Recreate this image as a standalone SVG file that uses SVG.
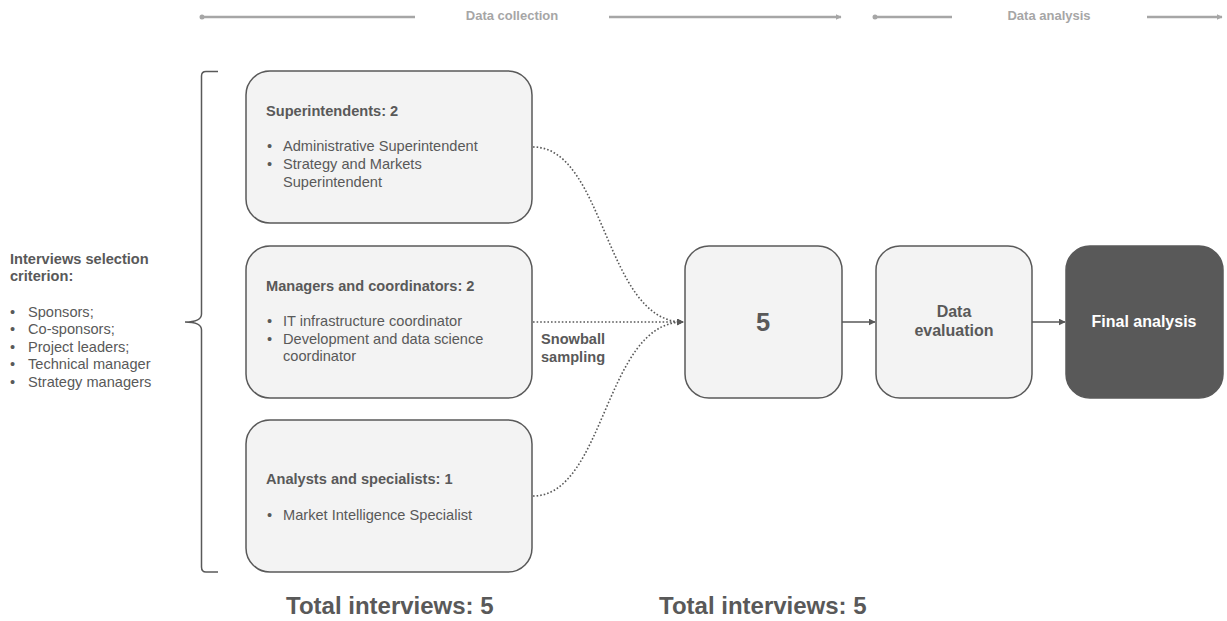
<svg xmlns="http://www.w3.org/2000/svg" width="1227" height="621" viewBox="0 0 1227 621">
  <defs>
    <style>
      text { font-family: "Liberation Sans", Arial, sans-serif; fill: #595959; }
      .b { font-weight: bold; }
      .h { font-size: 14.6px; font-weight: bold; }
      .t { font-size: 14.6px; }
      .box { fill: #f3f3f3; stroke: #595959; stroke-width: 1.5; }
      .dark { fill: #595959; stroke: #595959; stroke-width: 1.5; }
      .phase { stroke: #a6a6a6; stroke-width: 2.5; fill: none; }
      .phase-t { font-size: 13px; font-weight: bold; fill: #a6a6a6; }
      .dot { stroke: #595959; stroke-width: 1.6; stroke-dasharray: 1.6 2; fill: none; }
      .solid { stroke: #595959; stroke-width: 1.5; fill: none; }
    </style>
    <marker id="arr" viewBox="0 0 10 10" refX="9" refY="5" markerWidth="7" markerHeight="7" orient="auto" markerUnits="userSpaceOnUse">
      <path d="M0,0 L10,5 L0,10 z" fill="#595959"/>
    </marker>
    <marker id="arrG" viewBox="0 0 10 10" refX="9" refY="5" markerWidth="6" markerHeight="6" orient="auto" markerUnits="userSpaceOnUse">
      <path d="M0,0 L10,5 L0,10 z" fill="#a6a6a6"/>
    </marker>
  </defs>

  <!-- phase timeline -->
  <g id="phases">
    <circle cx="202" cy="17" r="2.5" fill="#a6a6a6"/>
    <line class="phase" x1="202" y1="17" x2="415" y2="17"/>
    <text class="phase-t" x="512" y="20" text-anchor="middle">Data collection</text>
    <line class="phase" x1="609" y1="17" x2="841" y2="17" marker-end="url(#arrG)"/>
    <circle cx="875" cy="17" r="2.5" fill="#a6a6a6"/>
    <line class="phase" x1="875" y1="17" x2="952" y2="17"/>
    <text class="phase-t" x="1049" y="20" text-anchor="middle">Data analysis</text>
    <line class="phase" x1="1147" y1="17" x2="1222" y2="17" marker-end="url(#arrG)"/>
  </g>

  <!-- selection criteria -->
  <g id="criteria">
    <text class="h" x="10" y="264">Interviews selection</text>
    <text class="h" x="10" y="281">criterion:</text>
    <text class="t" x="10" y="317">•</text><text class="t" x="28" y="317">Sponsors;</text>
    <text class="t" x="10" y="334">•</text><text class="t" x="28" y="334">Co-sponsors;</text>
    <text class="t" x="10" y="352">•</text><text class="t" x="28" y="352">Project leaders;</text>
    <text class="t" x="10" y="369">•</text><text class="t" x="28" y="369">Technical manager</text>
    <text class="t" x="10" y="387">•</text><text class="t" x="28" y="387">Strategy managers</text>
  </g>

  <!-- brace -->
  <g id="brace">
    <path class="solid" d="M218,71.5 L206,71.5 Q201.5,71.5 201.5,76 L201.5,314 Q201.5,322 185,322 Q201.5,322 201.5,330 L201.5,567 Q201.5,572 206,572 L218,572"/>
  </g>

  <!-- connectors -->
  <g id="connectors">
    <path class="dot" d="M533,147 C605,147 605,322 683,322" marker-end="url(#arr)"/>
    <path class="dot" d="M533,322 L683,322" marker-end="url(#arr)"/>
    <path class="dot" d="M533,496 C605,496 605,322 683,322" marker-end="url(#arr)"/>
    <path class="solid" d="M842,322 L875,322" marker-end="url(#arr)"/>
    <path class="solid" d="M1032,322 L1065,322" marker-end="url(#arr)"/>
    <text class="h" x="541" y="344">Snowball</text>
    <text class="h" x="541" y="362">sampling</text>
  </g>

  <g id="superintendents">
    <rect class="box" x="246" y="71" width="286" height="152" rx="24"/>
    <text class="h" x="266" y="116">Superintendents: 2</text>
    <text class="t" x="267" y="151">•</text><text class="t" x="283" y="151">Administrative Superintendent</text>
    <text class="t" x="267" y="169">•</text><text class="t" x="283" y="169">Strategy and Markets</text>
    <text class="t" x="283" y="187">Superintendent</text>
  </g>

  <g id="managers">
    <rect class="box" x="246" y="246" width="286" height="152" rx="24"/>
    <text class="h" x="266" y="291">Managers and coordinators: 2</text>
    <text class="t" x="267" y="326">•</text><text class="t" x="283" y="326">IT infrastructure coordinator</text>
    <text class="t" x="267" y="344">•</text><text class="t" x="283" y="344">Development and data science</text>
    <text class="t" x="283" y="361">coordinator</text>
  </g>

  <g id="analysts">
    <rect class="box" x="246" y="420" width="286" height="152" rx="24"/>
    <text class="h" x="266" y="484">Analysts and specialists: 1</text>
    <text class="t" x="267" y="520">•</text><text class="t" x="283" y="520">Market Intelligence Specialist</text>
  </g>

  <g id="total">
    <rect class="box" x="685" y="246" width="157" height="152" rx="24"/>
    <text class="b" x="763" y="331" font-size="25.5" text-anchor="middle">5</text>
  </g>

  <g id="evaluation">
    <rect class="box" x="876" y="246" width="156" height="152" rx="24"/>
    <text class="b" x="954" y="317" font-size="16" text-anchor="middle">Data</text>
    <text class="b" x="954" y="336" font-size="16" text-anchor="middle">evaluation</text>
  </g>

  <g id="final">
    <rect class="dark" x="1066" y="246" width="157" height="152" rx="24"/>
    <text class="b" x="1144" y="327" font-size="16" text-anchor="middle" style="fill:#ffffff">Final analysis</text>
  </g>

  <g id="totals">
    <text class="b" x="286" y="614" font-size="24">Total interviews: 5</text>
    <text class="b" x="659" y="614" font-size="24">Total interviews: 5</text>
  </g>
</svg>
